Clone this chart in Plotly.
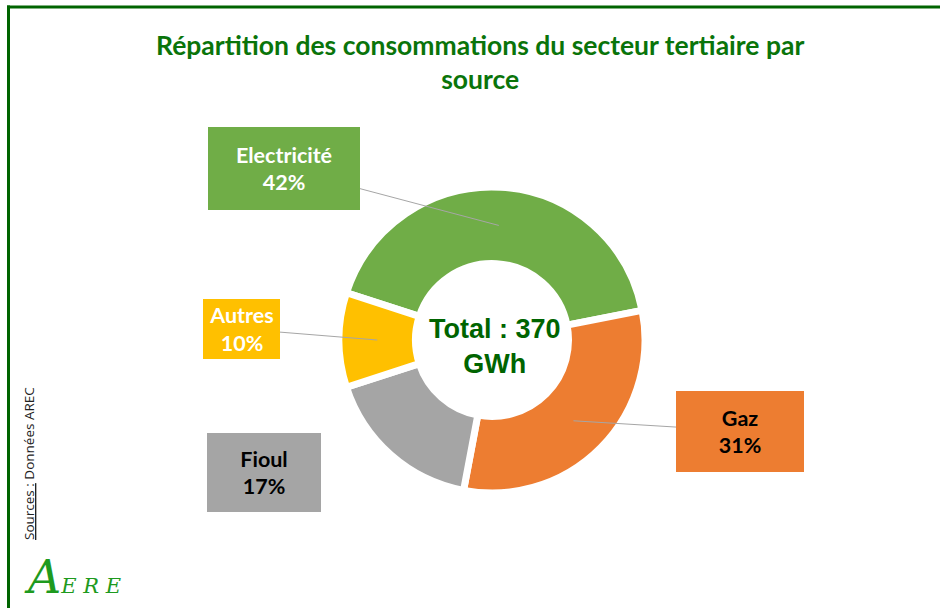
import math
import plotly.graph_objects as go

# ---- data ----
sources = ["Electricité", "Gaz", "Fioul", "Autres"]
consumption_gwh = [155, 115, 63, 37]
colors = ["#70AD47", "#ED7D31", "#A5A5A5", "#FFC000"]
label_font_colors = ["#FFFFFF", "#000000", "#000000", "#FFFFFF"]
title_text = "Répartition des consommations du secteur tertiaire par<br>source"
center_unit = "GWh"

# ---- layout geometry (pixels) ----
W, H = 940, 608
CX, CY, R = 492, 340, 153
HOLE = 0.5
ROTATION = 288  # clockwise from 12 o'clock, start of first slice

# label boxes: center x, center y, width, height, show leader line
boxes = [
    (284, 168.5, 152, 83, True),
    (740, 431, 128, 81, True),
    (264, 472.5, 114, 79, False),
    (241.5, 329, 77, 60, True),
]

def px_to_paper(x, y):
    return x / W, 1 - y / H

total = sum(consumption_gwh)

fig = go.Figure()
fig.add_trace(go.Pie(
    labels=sources,
    values=consumption_gwh,
    hole=HOLE,
    sort=False,
    direction="clockwise",
    rotation=ROTATION,
    marker=dict(colors=colors, line=dict(color="white", width=7)),
    textinfo="none",
    hoverinfo="label+percent+value",
    showlegend=False,
    domain=dict(x=[(CX - R) / W, (CX + R) / W], y=[1 - (CY + R) / H, 1 - (CY - R) / H]),
))

annotations = []
cum = 0
r_mid = R * (1 + HOLE) / 2
for name, val, fc, col, (bx, by, bw, bh, line) in zip(sources, consumption_gwh, label_font_colors, colors, boxes):
    pct = round(100 * val / total)
    ang = math.radians(ROTATION + (cum + val / 2) / total * 360)
    cum += val
    tx = CX + r_mid * math.sin(ang)
    ty = CY - r_mid * math.cos(ang)
    txt = f"<b>{name}<br>{pct}%</b>"
    common = dict(
        xref="paper", yref="paper",
        text=txt, font=dict(family="Lato", size=21.5, color=fc),
        bgcolor=col, width=bw, height=bh, borderpad=0, borderwidth=0,
        align="center", valign="middle",
    )
    if line:
        px, py = px_to_paper(tx, ty)
        annotations.append(dict(
            x=px, y=py,
            ax=bx - tx, ay=by - ty, axref="pixel", ayref="pixel",
            showarrow=True, arrowhead=0, arrowwidth=1, arrowcolor="#A6A6A6",
            standoff=0, startstandoff=0, **common,
        ))
    else:
        px, py = px_to_paper(bx, by)
        annotations.append(dict(
            x=px, y=py, showarrow=False, xanchor="center", yanchor="middle", **common,
        ))

# center total
cx_p, cy_p = px_to_paper(CX + 3, CY + 6)
annotations.append(dict(
    x=cx_p, y=cy_p, xref="paper", yref="paper", showarrow=False,
    text=f"<b>Total : {total}<br>{center_unit}</b>",
    font=dict(family="Liberation Sans", size=27, color="#006400"),
    align="center", xanchor="center", yanchor="middle",
))

# title
tx_p, ty_p = px_to_paper(480, 62)
annotations.append(dict(
    x=tx_p, y=ty_p, xref="paper", yref="paper", showarrow=False,
    text=f"<b>{title_text}</b>",
    font=dict(family="Lato", size=26.5, color="#0A740A"),
    align="center", xanchor="center", yanchor="middle",
))

# sources (vertical)
sx, sy = px_to_paper(29, 464)
annotations.append(dict(
    x=sx, y=sy, xref="paper", yref="paper", showarrow=False,
    text="<u>Sources :</u> Données AREC", textangle=-90,
    font=dict(family="Open Sans", size=13.5, color="#222222"),
    xanchor="center", yanchor="middle",
))

# logo
lx, ly = px_to_paper(72, 577)
annotations.append(dict(
    x=lx, y=ly, xref="paper", yref="paper", showarrow=False,
    text="<i><span style='font-size:46px'>A</span>E R E</i>",
    font=dict(family="DejaVu Serif", size=21, color="#1E9A1E"),
    xanchor="center", yanchor="middle",
))

shapes = [
    dict(type="line", xref="paper", yref="paper", x0=7 / W, x1=1, y0=1 - 7 / H, y1=1 - 7 / H,
         line=dict(color="#006400", width=3)),
    dict(type="line", xref="paper", yref="paper", x0=8.5 / W, x1=8.5 / W, y0=1 - 5.5 / H, y1=0,
         line=dict(color="#006400", width=3)),
]

fig.update_layout(
    width=W, height=H,
    margin=dict(l=0, r=0, t=0, b=0),
    paper_bgcolor="white", plot_bgcolor="white",
    annotations=annotations, shapes=shapes,
)

fig.write_html(
    "out.html",
    config={"displayModeBar": False},
    post_script="document.body.style.margin='0';document.body.style.overflow='hidden';",
)
